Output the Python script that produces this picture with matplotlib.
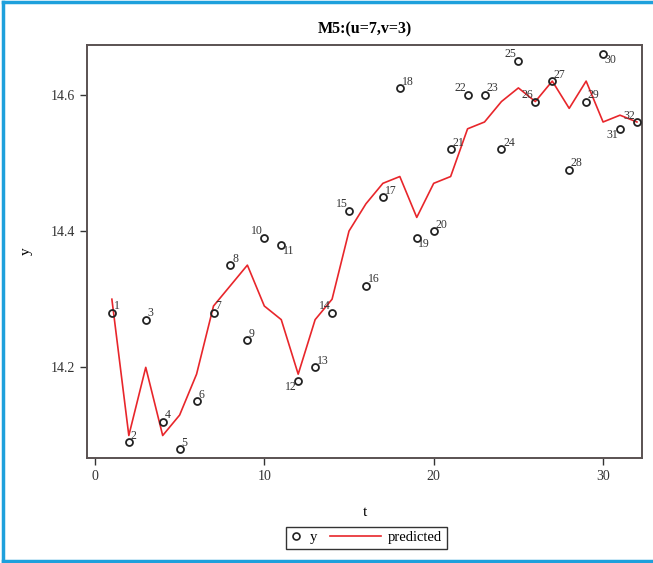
import matplotlib
matplotlib.use('Agg')
import matplotlib.pyplot as plt
from matplotlib.lines import Line2D
from matplotlib.legend_handler import HandlerBase

plt.rcParams['font.family'] = ['Liberation Serif', 'DejaVu Serif']

# observed series
t = list(range(1, 33))
y = [14.28, 14.09, 14.27, 14.12, 14.08, 14.15, 14.28, 14.35, 14.24, 14.39,
     14.38, 14.18, 14.20, 14.28, 14.43, 14.32, 14.45, 14.61, 14.39, 14.40,
     14.52, 14.60, 14.60, 14.52, 14.65, 14.59, 14.62, 14.49, 14.59, 14.66,
     14.55, 14.56]

# model prediction
predicted = [14.30, 14.10, 14.20, 14.10, 14.13, 14.19, 14.29, 14.32, 14.35, 14.29,
             14.27, 14.19, 14.27, 14.30, 14.40, 14.44, 14.47, 14.48, 14.42, 14.47,
             14.48, 14.55, 14.56, 14.59, 14.61, 14.59, 14.62, 14.58, 14.62, 14.56,
             14.57, 14.56]

xticks = [0, 10, 20, 30]
yticks = [14.2, 14.4, 14.6]

# where each point label sits relative to its marker
label_pos = ['ur', 'ur', 'ur', 'ur', 'ur', 'ur', 'ur', 'ur', 'ur', 'ul',
             'lr', 'll', 'ur', 'ul', 'ul', 'ur', 'ur', 'ur', 'lr', 'ur',
             'ur', 'ul', 'ur', 'ur', 'ul', 'ul', 'ur', 'ur', 'ur', 'lr',
             'll', 'ul']

RED = '#e8262b'


class LongLine(HandlerBase):
    # legend line that reaches back into the column gap
    def create_artists(self, legend, orig_handle, xdescent, ydescent, width, height, fontsize, trans):
        yc = height / 2 - ydescent
        ln = Line2D([-xdescent - 3.4 * width, -xdescent + width], [yc, yc],
                    color=RED, lw=1.2, transform=trans)
        return [ln]


fig = plt.figure(figsize=(6.53, 5.63), dpi=100)
ax = fig.add_axes([0.1332, 0.1865, 0.85, 0.7336])

ax.plot(t, predicted, color=RED, lw=1.2, zorder=2)
ax.plot(t, y, 'o', ms=5, mfc='none', mec='#222222', mew=1.3, zorder=3)

offs = {'ur': (1.2, 0.3, 'left', 'bottom'),
        'ul': (-1.2, 0.3, 'right', 'bottom'),
        'lr': (1.2, -0.3, 'left', 'top'),
        'll': (-1.2, -0.3, 'right', 'top')}
for ti, yi, p in zip(t, y, label_pos):
    dx, dy, ha, va = offs[p]
    ax.annotate(str(ti), (ti, yi), xytext=(dx, dy), textcoords='offset points',
                ha=ha, va=va, fontsize=8.5, color='#333333')

ax.set_xlim(-0.47, 32.3)
ax.set_ylim(14.067, 14.673)
ax.set_xticks(xticks)
ax.set_yticks(yticks)
ax.set_yticklabels(['%.1f' % v for v in yticks])
ax.tick_params(direction='out', length=5, width=1, colors='#333333', labelsize=10)
for s in ax.spines.values():
    s.set_color('#5a5252')
    s.set_linewidth(1.4)

ax.set_title('M5:(u=7,v=3)', fontsize=11.5, fontweight='bold', pad=8)
ax.set_xlabel('t', fontsize=11, labelpad=17)
ax.set_ylabel('y', fontsize=11, labelpad=13)

h_y = Line2D([], [], ls='none', marker='o', ms=5, mfc='none', mec='#222222', mew=1.2)
h_pred = Line2D([], [], color=RED, lw=1.2)
leg = fig.legend([h_y, h_pred], ['y', 'predicted'], loc='center', bbox_to_anchor=(0.561, 0.045),
                 ncol=2, fontsize=10.5, frameon=True, fancybox=False, handlelength=0.8,
                 columnspacing=3.6, handletextpad=0.5, borderpad=0.3,
                 handler_map={h_pred: LongLine()})
leg.get_frame().set_edgecolor('black')
leg.get_frame().set_linewidth(1.0)

# blue page border
blue = '#1ea0dc'
fig.add_artist(Line2D([0.004, 0.004], [0.004, 0.996], color=blue, lw=2.5, transform=fig.transFigure))
fig.add_artist(Line2D([0.004, 1.0], [0.996, 0.996], color=blue, lw=2.5, transform=fig.transFigure))
fig.add_artist(Line2D([0.004, 1.0], [0.004, 0.004], color=blue, lw=2.5, transform=fig.transFigure))

fig.savefig('out.png', dpi=100)
